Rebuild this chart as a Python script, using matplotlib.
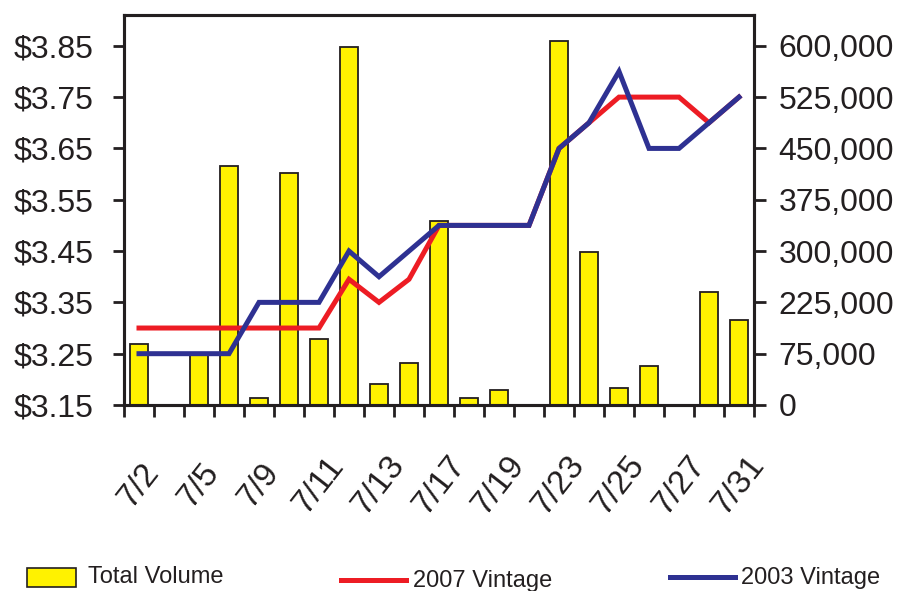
import numpy as np
import matplotlib.pyplot as plt
from matplotlib.lines import Line2D
from matplotlib.patches import Rectangle

plt.rcParams['font.family'] = ['Liberation Sans', 'DejaVu Sans']

# trading days, July 2007
days = ['7/2', '7/3', '7/5', '7/6', '7/9', '7/10', '7/11', '7/12', '7/13', '7/16', '7/17',
        '7/18', '7/19', '7/20', '7/23', '7/24', '7/25', '7/26', '7/27', '7/30', '7/31']

volume = [102000, 0, 84000, 400000, 12000, 387000, 110000, 598000, 35000, 70000, 308000,
          12000, 25000, 0, 608000, 256000, 28000, 65000, 0, 188000, 142000]

vintage_2007 = [3.30, 3.30, 3.30, 3.30, 3.30, 3.30, 3.30, 3.395, 3.35, 3.395, 3.50,
                3.50, 3.50, 3.50, 3.65, 3.70, 3.75, 3.75, 3.75, 3.70, 3.75]
vintage_2003 = [3.25, 3.25, 3.25, 3.25, 3.35, 3.35, 3.35, 3.45, 3.40, 3.45, 3.50,
                3.50, 3.50, 3.50, 3.65, 3.70, 3.80, 3.65, 3.65, 3.70, 3.75]

price_ticks = [3.15, 3.25, 3.35, 3.45, 3.55, 3.65, 3.75, 3.85]
price_labels = ['$3.15', '$3.25', '$3.35', '$3.45', '$3.55', '$3.65', '$3.75', '$3.85']
volume_labels = ['0', '75,000', '225,000', '300,000', '375,000', '450,000', '525,000', '600,000']

ink = '#231f20'
yellow = '#fff200'
red = '#ed1c24'
blue = '#2e3192'

fig = plt.figure(figsize=(8.98, 5.91), dpi=100)
ax = fig.add_axes([124 / 898, 1 - 405 / 591, 630 / 898, 390 / 591])
ax2 = ax.twinx()

x = np.arange(len(days))
price_lo, price_hi = 3.15, 3.91
vol_top = 600000 * (price_hi - price_lo) / (price_ticks[-1] - price_lo)

# volume bars on the right axis, drawn underneath the price lines
ax2.bar(x, volume, width=0.57, color=yellow, edgecolor=ink, linewidth=1.3)
ax2.set_ylim(0, vol_top)
ax2.set_yticks(np.linspace(0, 600000, len(volume_labels)))
ax2.set_yticklabels(volume_labels)

ax.set_zorder(ax2.get_zorder() + 1)
ax.patch.set_visible(False)
ax.plot(x, vintage_2007, color=red, linewidth=3.6, solid_joinstyle='miter')
ax.plot(x, vintage_2003, color=blue, linewidth=3.6, solid_joinstyle='miter')
ax.set_ylim(price_lo, price_hi)
ax.set_yticks(price_ticks)
ax.set_yticklabels(price_labels)
ax.set_xlim(-0.5, len(days) - 0.5)

# boundary ticks between days, labels on every other day
ax.set_xticks(np.arange(len(days) + 1) - 0.5)
ax.set_xticklabels([])
ax.set_xticks(x[::2], minor=True)
ax.set_xticklabels(days[::2], minor=True, rotation=52, ha='center', va='center')
ax.tick_params(axis='x', which='minor', length=0, pad=58, labelsize=24, labelcolor=ink)
ax.tick_params(axis='x', which='major', length=8.5, width=2.0, color=ink)
ax.tick_params(axis='y', length=8, width=2.0, color=ink, pad=14, labelsize=23, labelcolor=ink)
ax2.tick_params(axis='y', length=8.5, width=2.0, color=ink, pad=9, labelsize=23, labelcolor=ink)

for a in (ax, ax2):
    for s in a.spines.values():
        s.set_linewidth(2.2)
        s.set_color(ink)

# legend row along the bottom
fig.patches.append(Rectangle((27 / 898, 1 - 587 / 591), 49 / 898, 19 / 591,
                             transform=fig.transFigure, facecolor=yellow, edgecolor=ink,
                             linewidth=1.2))
fig.text(88 / 898, 1 - 577 / 591, 'Total Volume', fontsize=17, color=ink, va='center')
fig.lines.append(Line2D([341 / 898, 406 / 898], [1 - 580 / 591] * 2, transform=fig.transFigure,
                        color=red, linewidth=3.6))
fig.text(413 / 898, 1 - 581 / 591, '2007 Vintage', fontsize=17, color=ink, va='center')
fig.lines.append(Line2D([670 / 898, 735 / 898], [1 - 577 / 591] * 2, transform=fig.transFigure,
                        color=blue, linewidth=3.6))
fig.text(741 / 898, 1 - 578 / 591, '2003 Vintage', fontsize=17, color=ink, va='center')

fig.savefig('out.png', dpi=100)
